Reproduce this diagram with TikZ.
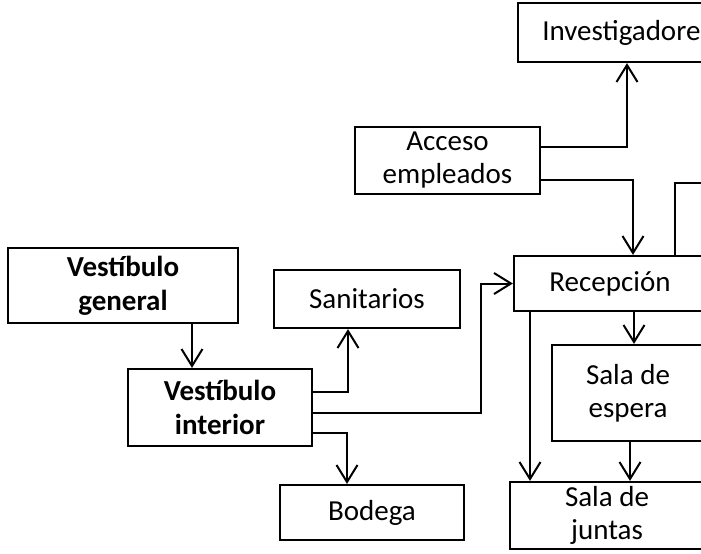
\documentclass[tikz,border=0pt]{standalone}
\usepackage{fontspec}
\setmainfont{Carlito}
\usetikzlibrary{arrows.meta}
\tikzset{
  box/.style={draw, line width=1.1pt, inner sep=0pt, align=center,
              font=\fontsize{14.5}{16.5}\selectfont},
  boldbox/.style={box, font=\fontsize{14.5}{17}\selectfont\bfseries},
  flow/.style={line width=1pt, -{Straight Barb[length=8.5pt, width=10.5pt, line width=1pt]}},
  plainline/.style={line width=1pt},
}

\begin{document}
\begin{tikzpicture}[x=0.5pt, y=-0.5pt]
    \clip (0,0) rectangle (701,553);
    \node[box, minimum width=109pt, minimum height=29.5pt] (invest) at (627,32.5) {Investigadores};
    \node[box, minimum width=92.5pt, minimum height=33.5pt] (acceso) at (447.5,160.5) {Acceso\\empleados};
    \node[boldbox, minimum width=115pt, minimum height=37.5pt] (vgen) at (123,285.5) {Vestíbulo\\general};
    \node[box, minimum width=93pt, minimum height=29pt] (sanit) at (367,299) {Sanitarios};
    \node[boldbox, minimum width=92pt, minimum height=38.5pt] (vint) at (220,407.5) {Vestíbulo\\interior};
    \node[box, minimum width=92pt, minimum height=27.5pt] (bodega) at (372,512.5) {Bodega};
    \node[box, minimum width=96pt, minimum height=27.5pt] (recep) at (610,283.5) {Recepción};
    \node[box, minimum width=76pt, minimum height=48pt] (espera) at (628,393) {Sala de\\espera};
    \node[box, minimum width=97pt, minimum height=33.5pt] (juntas) at (607,515.5) {Sala de\\juntas};
    \coordinate (offright) at (730,183);
    % connectors
    \draw[flow] ([yshift=6.75pt]acceso.east) -| (invest.south);
    \draw[flow] ([yshift=-9.75pt]acceso.east) -| ([xshift=11.5pt]recep.north);
    \draw[plainline] ([xshift=32.5pt]recep.north) |- (offright);
    \draw[flow] ([xshift=34.5pt]vgen.south) -- ([xshift=-14pt]vint.north);
    \draw[flow] ([yshift=7.75pt]vint.east) -| ([xshift=-9.5pt]sanit.south);
    \draw[flow] ([yshift=-2.75pt]vint.east) -- ++(84pt,0) |- (recep.west);
    \draw[flow] ([yshift=-12.75pt]vint.east) -| ([xshift=-12.5pt]bodega.north);
    \draw[flow] ([xshift=-40pt]recep.south) -- ([xshift=-38.5pt]juntas.north);
    \draw[flow] ([xshift=12pt]recep.south) -- ([xshift=3pt]espera.north);
    \draw[flow] ([xshift=1pt]espera.south) -- ([xshift=11.5pt]juntas.north);
\end{tikzpicture}
\end{document}
